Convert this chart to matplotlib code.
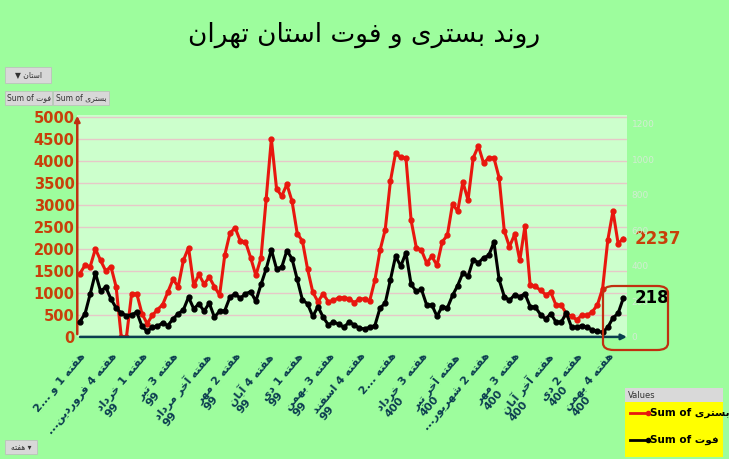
import matplotlib
matplotlib.use("Agg")
import matplotlib.pyplot as plt
from matplotlib.patches import FancyBboxPatch, Rectangle
from matplotlib.lines import Line2D

# ---------- data ----------
hosp = [1440,1630,1600,2000,1740,1500,1600,1140,0,0,980,980,530,300,490,620,735,1020,1310,1140,
        1740,2030,1170,1420,1200,1360,1140,950,1860,2360,2480,2180,2160,1800,1400,1800,3140,4500,3370,3200,
        3470,3080,2350,2180,1540,1020,800,980,800,830,890,890,870,780,860,
        870,820,1290,1970,2440,3540,4180,4080,4070,2650,2030,1970,1680,1830,1630,2160,2310,3020,2860,3520,
        3110,4070,4340,3950,4070,4070,3620,2410,2050,2330,1740,2520,1170,1150,1060,960,1010,720,720,530,
        470,390,490,490,570,730,1100,2200,2860,2120,2237]
deaths = [86,130,242,359,257,280,214,163,133,120,124,139,60,32,54,60,79,64,101,130,
          152,224,158,186,145,190,111,145,148,224,242,218,242,255,201,295,383,490,383,392,
          486,439,323,208,186,115,171,111,68,83,73,54,83,68,49,
          45,54,64,163,190,321,454,398,473,295,257,267,180,180,116,171,163,233,289,360,
          340,434,417,445,458,533,323,227,205,237,227,242,171,167,126,101,130,83,83,135,
          54,54,64,54,39,32,26,54,107,133,218]
week_labels = ["هفته 1 و 2...", "هفته 4 فروردین...", "هفته 1 خرداد\n99", "هفته 3 تیر\n99",
               "هفته آخر مرداد\n99", "هفته 2 مهر\n99", "هفته 4 آبان\n99", "هفته 1 دی\n99",
               "هفته 3 بهمن\n99", "هفته 4 اسفند\n99", "هفته 2...", "هفته 3 خرداد\n400",
               "هفته آخر تیر\n400", "هفته 2 شهریور...", "هفته 3 مهر\n400", "هفته آخر آبان\n400",
               "هفته 2 دی\n400", "هفته 4 بهمن\n400"]
left_ticks = [0,500,1000,1500,2000,2500,3000,3500,4000,4500,5000]
right_ticks = [0,200,400,600,800,1000,1200]

# ---------- minimal Arabic/Persian shaping ----------
FORMS = {
    'ا': ('\uFE8D','\uFE8E',None,None), 'آ': ('\uFE81','\uFE82',None,None),
    'ب': ('\uFE8F','\uFE90','\uFE91','\uFE92'), 'ت': ('\uFE95','\uFE96','\uFE97','\uFE98'),
    'خ': ('\uFEA5','\uFEA6','\uFEA7','\uFEA8'), 'د': ('\uFEA9','\uFEAA',None,None),
    'ر': ('\uFEAD','\uFEAE',None,None), 'ز': ('\uFEAF','\uFEB0',None,None),
    'س': ('\uFEB1','\uFEB2','\uFEB3','\uFEB4'), 'ش': ('\uFEB5','\uFEB6','\uFEB7','\uFEB8'),
    'ف': ('\uFED1','\uFED2','\uFED3','\uFED4'), 'م': ('\uFEE1','\uFEE2','\uFEE3','\uFEE4'),
    'ن': ('\uFEE5','\uFEE6','\uFEE7','\uFEE8'), 'ه': ('\uFEE9','\uFEEA','\uFEEB','\uFEEC'),
    'و': ('\uFEED','\uFEEE',None,None), 'ی': ('\uFBFC','\uFBFD','\uFBFE','\uFBFF'),
}
def shape_word(w):
    out = []
    for i, c in enumerate(w):
        if c not in FORMS:
            out.append(c); continue
        prev = w[i-1] if i > 0 else None
        nxt = w[i+1] if i+1 < len(w) else None
        jp = prev in FORMS and FORMS[prev][2] is not None
        jn = nxt in FORMS and FORMS[c][2] is not None
        iso, fin, ini, med = FORMS[c]
        if jp and jn: out.append(med)
        elif jp: out.append(fin)
        elif jn: out.append(ini)
        else: out.append(iso)
    return ''.join(out)
def is_ar(w):
    return any(ch in FORMS for ch in w)
def rtl(line):
    words = line.split(' ')
    res = []
    for w in words:
        if is_ar(w):
            core = w.rstrip('.')
            dots = w[len(core):]
            res.append(dots + shape_word(core)[::-1])
        else:
            res.append(w)
    return ' '.join(res[::-1])
def rtl_multi(s):
    return '\n'.join(rtl(l) for l in s.split('\n'))

plt.rcParams['font.family'] = ['DejaVu Sans']

FIG_BG = '#9dfd9d'
fig = plt.figure(figsize=(7.29, 4.59), dpi=100, facecolor=FIG_BG)
ax = fig.add_axes([0.106, 0.266, 0.754, 0.483])
ax.set_facecolor('#ccffcc')
ax2 = ax.twinx()

x = list(range(len(hosp)))
ax.plot(x, hosp, color='#e8170e', lw=2.2, marker='o', ms=3.5, zorder=3)
ax2.plot(x, deaths, color='black', lw=2.2, marker='o', ms=3.5, zorder=3)

ax.set_xlim(-0.5, len(hosp) - 0.3)
ax.set_ylim(0, 5040)
ax2.set_ylim(0, 1247)
ax.set_yticks(left_ticks)
ax.set_yticklabels([str(t) for t in left_ticks], color='#c8400a', fontweight='bold', fontsize=10.5)
ax2.set_yticks(right_ticks)
ax2.set_yticklabels([str(t) for t in right_ticks], color='#d2ecd2', fontsize=6.5)
ax.grid(axis='y', color='#e6c8c8', lw=1)
ax.set_axisbelow(True)
for a in (ax, ax2):
    for s in a.spines.values():
        s.set_visible(False)
    a.tick_params(length=0)
ax.tick_params(axis='y', pad=2)

ax.set_xticks(list(range(0, len(hosp), 6)))
ax.set_xticklabels([rtl_multi(l) for l in week_labels], rotation=50, ha='right', va='top',
                   rotation_mode='anchor', color='#0b3d4f', fontweight='bold', fontsize=8,
                   linespacing=1.05, multialignment='left')
ax.tick_params(axis='x', pad=10)

# axis arrows
ax.annotate('', xy=(0, 1.01), xytext=(0, 0), xycoords='axes fraction',
            arrowprops=dict(arrowstyle='-|>', color='#c03010', lw=1.8, mutation_scale=8))
ax.annotate('', xy=(1.005, 0), xytext=(0, 0), xycoords='axes fraction',
            arrowprops=dict(arrowstyle='-|>', color='#0b3d4f', lw=1.8, mutation_scale=8))

# end labels
ax.annotate(str(hosp[-1]), xy=(x[-1], hosp[-1]), xytext=(8, 0), textcoords='offset points',
            color='#c8400a', fontweight='bold', fontsize=12, va='center')
ax2.annotate(str(deaths[-1]), xy=(x[-1], deaths[-1]), xytext=(8, 0), textcoords='offset points',
             color='black', fontweight='bold', fontsize=12, va='center')

# title
fig.text(0.5, 0.925, rtl('روند بستری و فوت استان تهران'), ha='center', va='center', fontsize=19)

# red rounded rectangle
fig.patches.append(FancyBboxPatch((603/729, 1-350/459), 65/729, 64/459,
                                  boxstyle='round,pad=0,rounding_size=0.015',
                                  transform=fig.transFigure, fill=False, ec='#c03010', lw=1.6))

# filter buttons
def button(x0, y0, w, h, txt):
    fig.patches.append(Rectangle((x0/729, 1-(y0+h)/459), w/729, h/459, transform=fig.transFigure,
                                 fc='#d8d8d8', ec='#bbbbbb', lw=0.5))
    fig.text((x0+w/2)/729, 1-(y0+h/2)/459, txt, ha='center', va='center', fontsize=5.5, color='#333333')
button(5, 67, 46, 16, '▼ ' + rtl('استان'))
button(5, 91, 47, 14, 'Sum of ' + rtl('فوت'))
button(53, 91, 56, 14, 'Sum of ' + rtl('بستری'))
button(5, 440, 32, 14, rtl('هفته') + ' ▾')

# legend
fig.patches.append(Rectangle((625/729, 1-402/459), 98/729, 14/459, transform=fig.transFigure,
                             fc='#d9d9d9', ec='none'))
fig.text(628/729, 1-395/459, 'Values', fontsize=6, va='center', color='#333333')
fig.patches.append(Rectangle((625/729, 1-457/459), 98/729, 55/459, transform=fig.transFigure,
                             fc='#ffff00', ec='none'))
for yy, col, name in [(413, '#e8170e', 'بستری'), (440, 'black', 'فوت')]:
    fig.lines.append(Line2D([630/729, 648/729], [1-yy/459]*2, transform=fig.transFigure,
                            color=col, lw=2, marker='o', ms=3, markevery=[1]))
    fig.text(650/729, 1-yy/459, 'Sum of ' + rtl(name), fontsize=7.5, fontweight='bold',
             va='center', color='black')

fig.savefig('out.png', dpi=100, facecolor=FIG_BG)
